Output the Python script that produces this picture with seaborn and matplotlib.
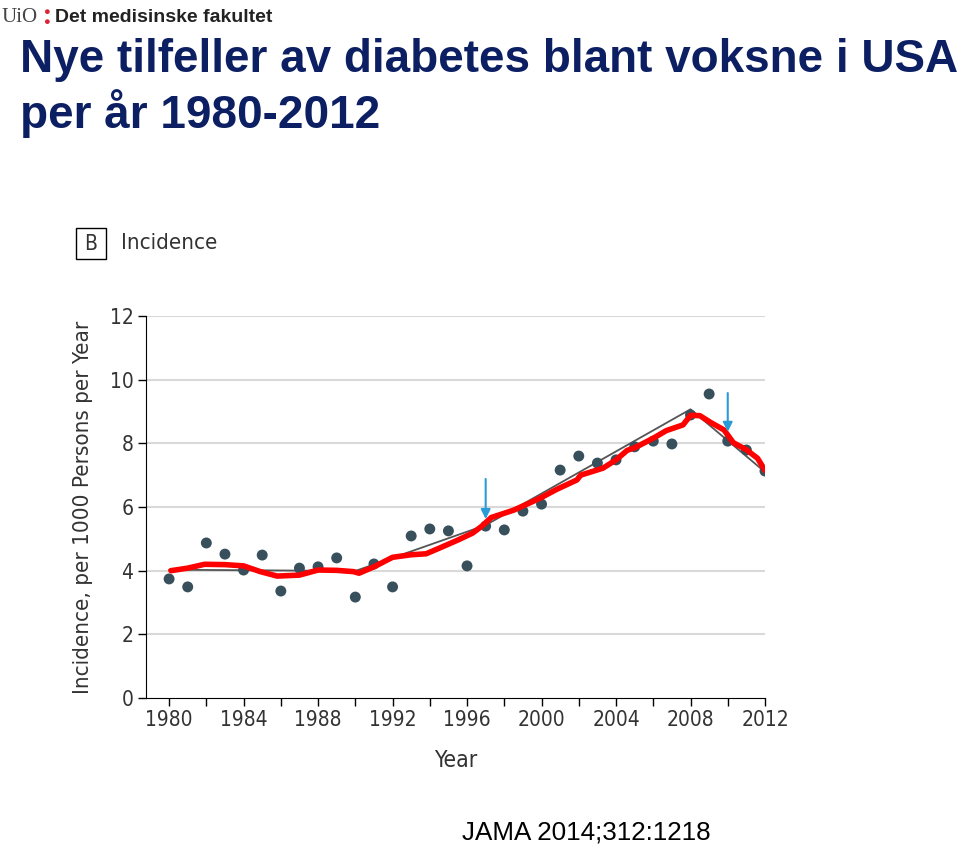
import numpy as np
import pandas as pd
import seaborn as sns
import matplotlib.pyplot as plt
from matplotlib.patches import Rectangle

# observed incidence per year (dots)
years = list(range(1980, 2013))
incidence = [3.74, 3.49, 4.87, 4.52, 4.02, 4.49, 3.36, 4.08, 4.12, 4.40,
             3.17, 4.21, 3.49, 5.09, 5.31, 5.25, 4.15, 5.40, 5.28, 5.87,
             6.09, 7.16, 7.60, 7.38, 7.48, 7.89, 8.07, 7.98, 8.89, 9.55,
             8.07, 7.79, 7.13]

# joinpoint trend (thin gray line)
trend_years = [1980, 1990, 1997, 2008, 2012]
trend_vals = [4.03, 3.99, 5.43, 9.07, 7.10]

# hand drawn red line
red_years = [1980.1, 1981.0, 1981.9, 1983.0, 1984.0, 1984.9, 1985.8, 1987.0,
             1988.0, 1989.0, 1989.9, 1990.2, 1991.0, 1992.0, 1993.0, 1993.8,
             1994.6, 1995.5, 1996.3, 1996.8, 1997.3, 1998.5, 1999.9, 2000.8,
             2001.9, 2002.1, 2003.3, 2004.0, 2004.6, 2005.0, 2006.0, 2006.7,
             2007.6, 2008.0, 2008.5, 2009.1, 2009.8, 2010.3, 2011.0, 2011.6,
             2012.0]
red_vals = [4.00, 4.08, 4.20, 4.19, 4.15, 3.97, 3.83, 3.86,
            4.02, 4.01, 3.97, 3.92, 4.12, 4.42, 4.50, 4.53,
            4.73, 4.96, 5.18, 5.40, 5.67, 5.90, 6.27, 6.55,
            6.85, 7.00, 7.22, 7.48, 7.78, 7.86, 8.16, 8.40,
            8.58, 8.88, 8.87, 8.65, 8.42, 8.02, 7.80, 7.53,
            7.15]

# blue arrows (criteria changes)
arrow_years = [1997, 2010]
arrow_top = [6.88, 9.58]
arrow_tip = [5.62, 8.36]

sns.set_style("white")
plt.rcParams['font.family'] = ['Liberation Sans', 'DejaVu Sans']
cond = dict(family='DejaVu Sans', stretch='condensed')

df = pd.DataFrame({'year': years, 'incidence': incidence})
trend = pd.DataFrame({'year': trend_years, 'val': trend_vals})
red = pd.DataFrame({'year': red_years, 'val': red_vals})

fig = plt.figure(figsize=(9.6, 8.46), dpi=100)
ax = fig.add_axes([146 / 960, 1 - 698 / 846, (765 - 146) / 960, (698 - 316) / 846])

for g in range(2, 13, 2):
    ax.axhline(g, color='#d9d9d9', lw=1.5, zorder=0)

sns.lineplot(data=trend, x='year', y='val', ax=ax, color='#555555', lw=1.3, zorder=2)
sns.scatterplot(data=df, x='year', y='incidence', ax=ax, color='#38505c', s=62,
                edgecolor='none', zorder=3)
sns.lineplot(data=red, x='year', y='val', ax=ax, color='#ff0000', lw=4.0, zorder=4,
             solid_capstyle='round', solid_joinstyle='round')

for xa, yt, yb in zip(arrow_years, arrow_top, arrow_tip):
    ax.annotate('', xy=(xa, yb), xytext=(xa, yt),
                arrowprops=dict(arrowstyle='-|>', color='#2b9bd8', lw=1.5,
                                mutation_scale=14, shrinkA=0, shrinkB=0), zorder=5)

ax.set_xlim(1978.76, 2012)
ax.set_ylim(0, 12)
ax.set_xticks(range(1980, 2013, 2))
ax.set_xticklabels([str(y) if y % 4 == 0 else '' for y in range(1980, 2013, 2)])
ax.set_yticks(range(0, 13, 2))
ax.tick_params(axis='both', direction='out', length=6, width=1, color='black',
               labelsize=15, labelcolor='#333333', bottom=True, left=True, pad=3)
for lab in ax.get_xticklabels() + ax.get_yticklabels():
    lab.set_family('DejaVu Sans')
    lab.set_stretch('condensed')
sns.despine(ax=ax)
ax.spines['left'].set_color('black')
ax.spines['bottom'].set_color('black')
ax.set_xlabel('Year', fontsize=16.5, color='#333333', labelpad=13, **cond)
ax.set_ylabel('Incidence, per 1000 Persons per Year', fontsize=16,
              color='#333333', labelpad=12, **cond)

# panel label
fig.patches.append(Rectangle((76 / 960, 1 - 259 / 846), 30 / 960, 31 / 846,
                             transform=fig.transFigure, fill=False, ec='black', lw=1))
fig.text(91 / 960, 1 - 244 / 846, 'B', ha='center', va='center', fontsize=15,
         color='#333333', **cond)
fig.text(121 / 960, 1 - 243 / 846, 'Incidence', ha='left', va='center', fontsize=16,
         color='#333333', **cond)

# title
fig.text(20 / 960, 1 - 60 / 846, 'Nye tilfeller av diabetes blant voksne i USA',
         ha='left', va='center', fontsize=33, fontweight='bold', color='#0d1f63')
fig.text(20 / 960, 1 - 114 / 846, 'per år 1980-2012',
         ha='left', va='center', fontsize=33, fontweight='bold', color='#0d1f63')

# logo
fig.text(2 / 960, 1 - 17 / 846, 'UiO', ha='left', va='center', fontsize=15,
         family='Liberation Serif', color='#444444')
fig.text(46 / 960, 1 - 12 / 846, '\u25CF', ha='center', va='center', fontsize=8, color='#dd2233')
fig.text(46 / 960, 1 - 22 / 846, '\u25CF', ha='center', va='center', fontsize=8, color='#dd2233')
fig.text(55 / 960, 1 - 17 / 846, 'Det medisinske fakultet', ha='left', va='center',
         fontsize=14, fontweight='bold', color='#222222')

fig.text(462 / 960, 1 - 832 / 846, 'JAMA 2014;312:1218', ha='left', va='center',
         fontsize=18.7, color='black')

fig.savefig('out.png', dpi=100)
